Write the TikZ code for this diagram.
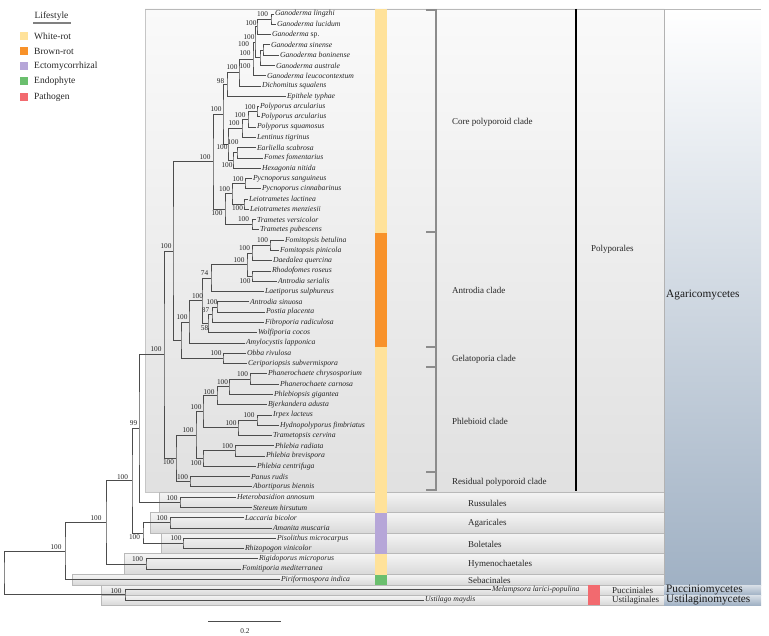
\documentclass[tikz,border=0pt]{standalone}
\usepackage{fontspec}
\setmainfont{Liberation Serif}
\usetikzlibrary{calc}
\definecolor{cW}{HTML}{FFE29A}
\definecolor{cB}{HTML}{F8922A}
\definecolor{cE}{HTML}{B6A6D8}
\definecolor{cN}{HTML}{6BBF6E}
\definecolor{cP}{HTML}{F26A6F}
\definecolor{agb}{HTML}{A0B1C4}
\definecolor{agm}{HTML}{B9C6D4}
\newcounter{bsn}
\newcommand\leaf[4]{\coordinate (#1) at (#2,{14+(#3-1)*10.28});\node[lf] (#1t) at (#1) {#4};}
\newcommand\inode[4]{\path let \p1=($(#3)!.5!(#4)$) in (#2pt,\y1) coordinate (#1);\draw[br] (#3) -| (#1) |- (#4);}
\newcommand\bs[3]{\stepcounter{bsn}\node[bs] (bs\arabic{bsn}) at (#1,#2) {#3};}
\begin{document}
\begin{tikzpicture}[x=1pt,y=-1pt,
  br/.style={draw=black!70, line width=0.8pt},
  lf/.style={anchor=west, inner sep=0.8pt, text=black!85, font=\fontsize{7.7}{9}\selectfont\itshape},
  bs/.style={inner sep=0pt, text=black!85, font=\fontsize{7.3}{9}\selectfont},
  band/.style={top color=white!96!black, bottom color=white!85!black, draw=gray!55, line width=0.5pt},
  bluebox/.style={top color=agm!55!white, bottom color=agb, draw=none},
  clade/.style={anchor=west, inner sep=0pt, text=black!85, font=\fontsize{9}{10}\selectfont},
  cls/.style={anchor=west, inner sep=0pt, text=black!90, font=\fontsize{11.3}{12}\selectfont},
  legtxt/.style={anchor=west, inner sep=0pt, text=black!85, font=\fontsize{9.5}{11}\selectfont},
  brk/.style={draw=black!45, line width=2.4pt}]
\useasboundingbox (0,0) rectangle (769,636);
% ---------- backgrounds ----------
\shade[top color=white!98!black, bottom color=white!88!black, draw=gray!45, line width=0.5pt] (145,9) rectangle (664,492);
\path[band] (159,492) rectangle (664,512.5);
\path[band] (150,512.5) rectangle (664,533);
\path[band] (161,533) rectangle (664,553.5);
\path[band] (124,553.5) rectangle (664,574.5);
\path[band] (72,574.5) rectangle (664,585);
\path[band] (101,585) rectangle (664,595);
\path[band] (101,595) rectangle (664,605);
\shade[top color=white, middle color=agm, bottom color=agb] (664,9) rectangle (761,585);
\path[bluebox] (664,585) rectangle (761,595);
\path[bluebox] (664,595) rectangle (761,605);
\draw[gray!55, line width=0.6pt] (145,9) -- (761,9);
\draw[gray!60, line width=0.5pt] (664,9) -- (664,585);
% ---------- lifestyle bar ----------
\fill[cW] (375,9) rectangle (387,233);
\fill[cB] (375,233) rectangle (387,347);
\fill[cW] (375,347) rectangle (387,512.5);
\fill[cE] (375,512.5) rectangle (387,553.5);
\fill[cW] (375,553.5) rectangle (387,574.5);
\fill[cN] (375,574.5) rectangle (387,585);
\fill[cP] (588,585) rectangle (600,605);
% ---------- clade brackets ----------
\draw[brk] (426,10) -- (436,10) -- (436,490) -- (426,490);
\draw[brk] (426,232) -- (436,232);
\draw[brk] (426,347) -- (436,347);
\draw[brk] (426,367) -- (436,367);
\draw[brk] (426,472) -- (436,472);
\draw[black, line width=2.6pt] (576,9) -- (576,491);
% ---------- leaves ----------
\leaf{L1}{274}{1}{Ganoderma lingzhi}
\leaf{L2}{276}{2}{Ganoderma lucidum}
\leaf{L3}{271}{3}{Ganoderma {\upshape sp.}}
\leaf{L4}{270}{4}{Ganoderma sinense}
\leaf{L5}{279}{5}{Ganoderma boninense}
\leaf{L6}{275}{6}{Ganoderma australe}
\leaf{L7}{266}{7}{Ganoderma leucocontextum}
\leaf{L8}{261}{8}{Dichomitus squalens}
\leaf{L9}{286}{9}{Epithele typhae}
\leaf{L10}{259}{10}{Polyporus arcularius}
\leaf{L11}{260}{11}{Polyporus arcularius}
\leaf{L12}{256}{12}{Polyporus squamosus}
\leaf{L13}{256}{13}{Lentinus tigrinus}
\leaf{L14}{256}{14}{Earliella scabrosa}
\leaf{L15}{263}{15}{Fomes fomentarius}
\leaf{L16}{261}{16}{Hexagonia nitida}
\leaf{L17}{252}{17}{Pycnoporus sanguineus}
\leaf{L18}{261}{18}{Pycnoporus cinnabarinus}
\leaf{L19}{248}{19}{Leiotrametes lactinea}
\leaf{L20}{249}{20}{Leiotrametes menziesii}
\leaf{L21}{256}{21}{Trametes versicolor}
\leaf{L22}{259}{22}{Trametes pubescens}
\leaf{L23}{284}{23}{Fomitopsis betulina}
\leaf{L24}{279}{24}{Fomitopsis pinicola}
\leaf{L25}{272}{25}{Daedalea quercina}
\leaf{L26}{271}{26}{Rhodofomes roseus}
\leaf{L27}{277}{27}{Antrodia serialis}
\leaf{L28}{264}{28}{Laetiporus sulphureus}
\leaf{L29}{249}{29}{Antrodia sinuosa}
\leaf{L30}{265}{30}{Postia placenta}
\leaf{L31}{264}{31}{Fibroporia radiculosa}
\leaf{L32}{257}{32}{Wolfiporia cocos}
\leaf{L33}{245}{33}{Amylocystis lapponica}
\leaf{L34}{246}{34}{Obba rivulosa}
\leaf{L35}{247}{35}{Ceriporiopsis subvermispora}
\leaf{L36}{267}{36}{Phanerochaete chrysosporium}
\leaf{L37}{279}{37}{Phanerochaete carnosa}
\leaf{L38}{273}{38}{Phlebiopsis gigantea}
\leaf{L39}{267}{39}{Bjerkandera adusta}
\leaf{L40}{272}{40}{Irpex lacteus}
\leaf{L41}{279}{41}{Hydnopolyporus fimbriatus}
\leaf{L42}{272}{42}{Trametopsis cervina}
\leaf{L43}{274}{43}{Phlebia radiata}
\leaf{L44}{265}{44}{Phlebia brevispora}
\leaf{L45}{256}{45}{Phlebia centrifuga}
\leaf{L46}{250}{46}{Panus rudis}
\leaf{L47}{252}{47}{Abortiporus biennis}
\leaf{L48}{236}{48}{Heterobasidion annosum}
\leaf{L49}{252}{49}{Stereum hirsutum}
\leaf{L50}{244}{50}{Laccaria bicolor}
\leaf{L51}{272}{51}{Amanita muscaria}
\leaf{L52}{276}{52}{Pisolithus microcarpus}
\leaf{L53}{244}{53}{Rhizopogon vinicolor}
\leaf{L54}{258}{54}{Rigidoporus microporus}
\leaf{L55}{241}{55}{Fomitiporia mediterranea}
\leaf{L56}{280}{56}{Piriformospora indica}
\leaf{L57}{491}{57}{Melampsora larici-populina}
\leaf{L58}{424}{58}{Ustilago maydis}
% ---------- internal nodes ----------
\inode{nLZ}{271}{L1}{L2}
\inode{nSP}{257}{nLZ}{L3}
\inode{nSB}{263}{L4}{L5}
\inode{nAU}{260}{nSB}{L6}
\inode{nGS}{255}{nSP}{nAU}
\inode{nGL}{253}{nGS}{L7}
\inode{nGD}{239}{nGL}{L8}
\inode{nEP}{227}{nGD}{L9}
\inode{nPA}{257}{L10}{L11}
\inode{nPB}{248}{nPA}{L12}
\inode{nPC}{242}{nPB}{L13}
\inode{nEF}{237}{L14}{L15}
\inode{nEFH}{233}{nEF}{L16}
\inode{nPOL}{228}{nPC}{nEFH}
\inode{nCA}{223}{nEP}{nPOL}
\inode{nPYC}{245}{L17}{L18}
\inode{nLEI}{244}{L19}{L20}
\inode{nPL}{232}{nPYC}{nLEI}
\inode{nTV}{252}{L21}{L22}
\inode{nTR}{225}{nPL}{nTV}
\inode{nCORE}{213}{nCA}{nTR}
\inode{nFOM}{270}{L23}{L24}
\inode{nFD}{252}{nFOM}{L25}
\inode{nRA}{252}{L26}{L27}
\inode{nFRD}{247}{nFD}{nRA}
\inode{nLAE}{211}{nFRD}{L28}
\inode{nAP}{217}{L29}{L30}
\inode{nAPF}{212}{nAP}{L31}
\inode{nAPFW}{208}{nAPF}{L32}
\inode{nANT}{202}{nLAE}{nAPFW}
\inode{nAMY}{189}{nANT}{L33}
\inode{nGEL}{223}{L34}{L35}
\inode{nAG}{181}{nAMY}{nGEL}
\inode{nCAG}{173}{nCORE}{nAG}
\inode{nPH}{250}{L36}{L37}
\inode{nPHP}{229}{nPH}{L38}
\inode{nPHB}{217}{nPHP}{L39}
\inode{nIH}{257}{L40}{L41}
\inode{nIHT}{238}{nIH}{L42}
\inode{nPHBI}{203}{nPHB}{nIHT}
\inode{nPR}{235}{L43}{L44}
\inode{nPRC}{203}{nPR}{L45}
\inode{nPHL}{196}{nPHBI}{nPRC}
\inode{nRES}{190}{L46}{L47}
\inode{nPRS}{176}{nPHL}{nRES}
\inode{nPOLY}{164}{nCAG}{nPRS}
\inode{nHS}{180}{L48}{L49}
\inode{nNN}{139}{nPOLY}{nHS}
\inode{nLA}{170}{L50}{L51}
\inode{nPRH}{183}{L52}{L53}
\inode{nAB}{143}{nLA}{nPRH}
\inode{nX}{132}{nNN}{nAB}
\inode{nRF}{146}{L54}{L55}
\inode{nY}{106}{nX}{nRF}
\inode{nZ}{65}{nY}{L56}
\inode{nMU}{125}{L57}{L58}
\inode{nROOT}{4}{nZ}{nMU}
% ---------- support values ----------
\bs{262.5}{14}{100}
\bs{251}{23}{100}
\bs{249}{37}{100}
\bs{243.5}{44}{100}
\bs{245}{53}{100}
\bs{245}{66}{100}
\bs{232}{67}{100}
\bs{220.5}{81}{98}
\bs{250}{107}{100}
\bs{240}{115}{100}
\bs{234}{123}{100}
\bs{233}{142}{100}
\bs{227}{165}{100}
\bs{222}{147}{100}
\bs{216}{109}{100}
\bs{238}{179}{100}
\bs{237.5}{208}{100}
\bs{224.5}{189}{100}
\bs{243.5}{219}{100}
\bs{217}{213}{100}
\bs{205}{157}{100}
\bs{262.5}{240}{100}
\bs{244.5}{248}{100}
\bs{245}{281}{100}
\bs{239}{260}{100}
\bs{204.5}{273}{74}
\bs{212}{302}{100}
\bs{205.5}{310}{87}
\bs{204.5}{328}{58}
\bs{197.5}{296}{100}
\bs{182}{317}{100}
\bs{216}{353}{100}
\bs{166}{246}{100}
\bs{242.5}{374}{100}
\bs{222.5}{382}{100}
\bs{209}{392}{100}
\bs{249}{415}{100}
\bs{231}{423}{100}
\bs{196}{407}{100}
\bs{227.5}{446}{100}
\bs{196}{463}{100}
\bs{188}{430}{100}
\bs{182.5}{477}{100}
\bs{168.5}{462}{100}
\bs{156}{349}{100}
\bs{172}{498}{100}
\bs{133.5}{423}{99}
\bs{162}{518}{100}
\bs{176}{538}{100}
\bs{134.5}{537}{100}
\bs{122.5}{477}{100}
\bs{137.5}{559}{100}
\bs{96}{518}{100}
\bs{56}{547}{100}
\bs{116}{591}{100}
% ---------- clade / order / class labels ----------
\node[clade] (cl1) at (452,122) {Core polyporoid clade};
\node[clade] (cl2) at (452,290) {Antrodia clade};
\node[clade] (cl3) at (452,359) {Gelatoporia clade};
\node[clade] (cl4) at (452,421) {Phlebioid clade};
\node[clade] (cl5) at (452,482) {Residual polyporoid clade};
\node[clade] (or1) at (591,249) {Polyporales};
\node[clade] (or2) at (468,503) {Russulales};
\node[clade] (or3) at (468,523.5) {Agaricales};
\node[clade] (or4) at (468,544) {Boletales};
\node[clade] (or5) at (468,564) {Hymenochaetales};
\node[clade] (or6) at (468,580) {Sebacinales};
\node[clade] (or7) at (612,590.5) {Pucciniales};
\node[clade] (or8) at (612,600.5) {Ustilaginales};
\node[cls] (cs1) at (666,295) {Agaricomycetes};
\node[cls] (cs2) at (666,590) {Pucciniomycetes};
\node[cls] (cs3) at (666,600) {Ustilaginomycetes};
% ---------- legend ----------
\node[legtxt, anchor=center] (lgt) at (51.5,16) {Lifestyle};
\draw[gray, line width=1.5pt] (33,23) -- (71,23);
\fill[cW] (20,32) rectangle (28,40);
\fill[cB] (20,47.5) rectangle (28,55.5);
\fill[cE] (20,62) rectangle (28,70);
\fill[cN] (20,77.5) rectangle (28,85.5);
\fill[cP] (20,93) rectangle (28,101);
\node[legtxt] (lg1) at (34,36) {White-rot};
\node[legtxt] (lg2) at (34,51.5) {Brown-rot};
\node[legtxt] (lg3) at (34,66) {Ectomycorrhizal};
\node[legtxt] (lg4) at (34,81.5) {Endophyte};
\node[legtxt] (lg5) at (34,97) {Pathogen};
% ---------- scale bar ----------
\coordinate (sb1) at (208,621);
\coordinate (sb2) at (281,621);
\draw[black!70, line width=0.7pt] (sb1) -- (sb2);
\node[bs] (sbt) at (245,631) {0.2};
\end{tikzpicture}
\end{document}
